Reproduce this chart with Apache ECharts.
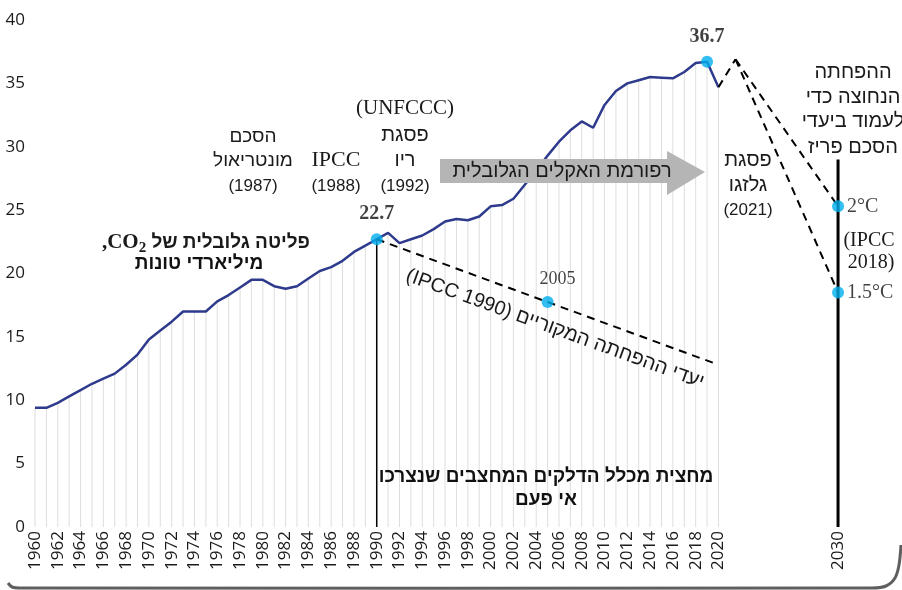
<!DOCTYPE html>
<html>
<head>
<meta charset="utf-8">
<script src="https://cdn.jsdelivr.net/npm/echarts@6/dist/echarts.min.js"></script>
<style>
html, body { margin: 0; padding: 0; background: #fff; }
#chart { width: 902px; height: 590px; }
</style>
</head>
<body>
<div id="chart"></div>
<script>
// global CO2 emissions, billion tonnes, 1960..2020
const emissions = [
  9.4, 9.4, 9.8, 10.3, 10.8, 11.3, 11.7, 12.1, 12.8, 13.6,
  14.8, 15.5, 16.2, 17.0, 17.0, 17.0, 17.8, 18.3, 18.9, 19.5,
  19.5, 19.0, 18.8, 19.0, 19.6, 20.2, 20.5, 21.0, 21.7, 22.2,
  22.7, 23.2, 22.4, 22.7, 23.0, 23.5, 24.1, 24.3, 24.2, 24.5,
  25.3, 25.4, 25.9, 27.0, 28.1, 29.3, 30.4, 31.3, 32.0, 31.5,
  33.3, 34.4, 35.0, 35.25, 35.5, 35.45, 35.4, 35.9, 36.6, 36.7,
  34.7
];
const years = emissions.map((v, i) => 1960 + i);

// highlighted points
const highlights = [[1990, 22.7, '22.7'], [2019, 36.7, '36.7']];
// original IPCC 1990 reduction goals
const ipcc1990Line = [[1990, 22.7], [2020, 12.8]];
const ipcc1990Mid = [[2005, 17.75, '2005']];
// Paris paths (2030 column sits at 2030.5 on the axis)
const col2030 = 2030.5;
const glasgowRise = [[2020, 34.7], [2021.5, 36.9]];
const path2C = [[2021.5, 36.9], [col2030, 25.3]];
const path15C = [[2021.5, 36.9], [col2030, 18.5]];
const targets = [[col2030, 25.3, '2°C'], [col2030, 18.5, '1.5°C']];
const line1990 = [[1990, 0], [1990, 22.7]];
const line2030 = [[col2030, 0], [col2030, 29]];

const SANS = '"Liberation Sans", "DejaVu Sans", sans-serif';
const SERIF = '"Liberation Serif", "DejaVu Serif", serif';
const TICK = '"Open Sans", "Noto Sans", sans-serif';

const chart = echarts.init(document.getElementById('chart'));

function txt(x, y, text, opt) {
  opt = opt || {};
  return {
    type: 'text', x: x, y: y, rotation: opt.rotation || 0, z: 100,
    style: {
      text: text,
      fill: opt.color || '#1a1a1a',
      fontSize: opt.size || 19,
      fontFamily: opt.family || SANS,
      fontWeight: opt.weight || 'normal',
      lineHeight: opt.lh || 25,
      align: opt.align || 'center',
      verticalAlign: opt.va || 'middle',
      rich: opt.rich
    }
  };
}

const option = {
  animation: false,
  grid: { left: 35, right: 7, top: 20, bottom: 63, outerBoundsMode: 'none' },
  xAxis: {
    type: 'value', min: 1960, max: 2035.5, interval: 0.5,
    axisLine: { show: false }, axisTick: { show: false }, splitLine: { show: false },
    axisLabel: {
      rotate: 90, fontSize: 17, color: '#1a1a1a', fontFamily: TICK, margin: 4,
      showMinLabel: true, showMaxLabel: true,
      formatter: function (v) {
        if (v === col2030) return '2030';
        if (v <= 2020 && v % 2 === 0) return String(v);
        return '';
      }
    }
  },
  yAxis: {
    type: 'value', min: 0, max: 40, interval: 5,
    axisLine: { show: false }, axisTick: { show: false }, splitLine: { show: false },
    axisLabel: { fontSize: 17, color: '#1a1a1a', fontFamily: TICK, margin: 10 }
  },
  series: [
    {
      type: 'bar', barWidth: 1, silent: true,
      itemStyle: { color: '#dedede' },
      data: years.map((y, i) => [y, emissions[i]])
    },
    {
      type: 'line', symbol: 'none', silent: true,
      lineStyle: { color: '#2e3a8c', width: 2.5 },
      data: years.map((y, i) => [y, emissions[i]]), z: 3
    },
    { type: 'line', symbol: 'none', data: line1990, lineStyle: { color: '#000', width: 1.5 }, z: 2 },
    { type: 'line', symbol: 'none', data: line2030, lineStyle: { color: '#000', width: 3 }, z: 2 },
    { type: 'line', symbol: 'none', data: ipcc1990Line, lineStyle: { color: '#000', width: 2, type: [8, 6] }, z: 4 },
    { type: 'line', symbol: 'none', data: glasgowRise, lineStyle: { color: '#000', width: 2, type: [8, 6] }, z: 4 },
    { type: 'line', symbol: 'none', data: path2C, lineStyle: { color: '#000', width: 2, type: [8, 6] }, z: 4 },
    { type: 'line', symbol: 'none', data: path15C, lineStyle: { color: '#000', width: 2, type: [8, 6] }, z: 4 },
    {
      type: 'scatter', symbolSize: 12, z: 6,
      itemStyle: { color: '#00aeef' },
      data: highlights,
      label: {
        show: true, position: 'top', distance: 9,
        formatter: p => p.data[2],
        fontFamily: SERIF, fontWeight: 'bold', fontSize: 20, color: '#111'
      }
    },
    {
      type: 'scatter', symbolSize: 12, z: 6,
      itemStyle: { color: '#00aeef' },
      data: ipcc1990Mid,
      label: {
        show: true, position: 'top', distance: 8, offset: [10, 0],
        formatter: p => p.data[2],
        fontFamily: SERIF, fontSize: 18, color: '#111'
      }
    },
    {
      type: 'scatter', symbolSize: 12, z: 6,
      itemStyle: { color: '#00aeef' },
      data: targets,
      label: {
        show: true, position: 'right', distance: 3,
        formatter: p => p.data[2],
        fontFamily: SERIF, fontSize: 20, color: '#111'
      }
    }
  ],
  graphic: [
    // frame bottom edge
    {
      type: 'polyline', z: 0, silent: true,
      shape: { points: [[8, 583], [12, 587], [20, 588], [872, 588], [886, 586], [895, 578], [899, 565], [901, 545]], smooth: 0.3 },
      style: { fill: null, stroke: '#5f5f5f', lineWidth: 3 }
    },
    // global climate reform arrow
    {
      type: 'polygon', z: 90,
      shape: { points: [[440, 159], [667, 159], [667, 151], [705, 172], [667, 195], [667, 183], [440, 183]] },
      style: { fill: '#b5b5b5' }
    },
    txt(562, 171, 'רפורמת האקלים הגלובלית', { size: 20 }),
    txt(253, 137, 'הסכם'),
    txt(253, 161, 'מונטריאול'),
    txt(253, 186, '(1987)', { size: 17 }),
    txt(336, 160, 'IPCC', { family: SERIF, size: 22 }),
    txt(336, 186, '(1988)', { size: 17 }),
    txt(405, 108, '(UNFCCC)', { family: SERIF, size: 21 }),
    txt(405, 135, 'פסגת', { size: 20 }),
    txt(405, 160, 'ריו', { size: 20 }),
    txt(405, 186, '(1992)', { size: 17 }),
    txt(748, 160, 'פסגת', { size: 20 }),
    txt(748, 185, 'גלזגו', { size: 20 }),
    txt(748, 210, '(2021)', { size: 17 }),
    txt(853, 72, 'ההפחתה', { size: 20 }),
    txt(853, 97, 'הנחוצה כדי', { size: 20 }),
    txt(853, 121, 'לעמוד ביעדי', { size: 20 }),
    txt(853, 147, 'הסכם פריז', { size: 20 }),
    txt(869, 241, '(IPCC', { family: SERIF, size: 20 }),
    txt(871, 263, '2018)', { family: SERIF, size: 20 }),
    txt(310, 243, '{c|,CO}{s|2}{h| פליטה גלובלית של}', {
      align: 'right',
      rich: {
        c: { fontFamily: SERIF, fontWeight: 'bold', fontSize: 21, color: '#111' },
        s: { fontFamily: SERIF, fontWeight: 'bold', fontSize: 15, color: '#111', padding: [10, 0, 0, 0] },
        h: { fontFamily: SANS, fontWeight: 'bold', fontSize: 19, color: '#111' }
      }
    }),
    txt(199, 264, 'מיליארדי טונות', { weight: 'bold', size: 19, color: '#111' }),
    txt(546, 477, 'מחצית מכלל הדלקים המחצבים שנצרכו', { weight: 'bold', size: 19, color: '#111' }),
    txt(546, 500, 'אי פעם', { weight: 'bold', size: 19, color: '#111' }),
    txt(555, 329, '(IPCC 1990) יעדי ההפחתה המקוריים', { size: 20, rotation: -20 * Math.PI / 180 })
  ]
};

chart.setOption(option);
</script>
</body>
</html>
